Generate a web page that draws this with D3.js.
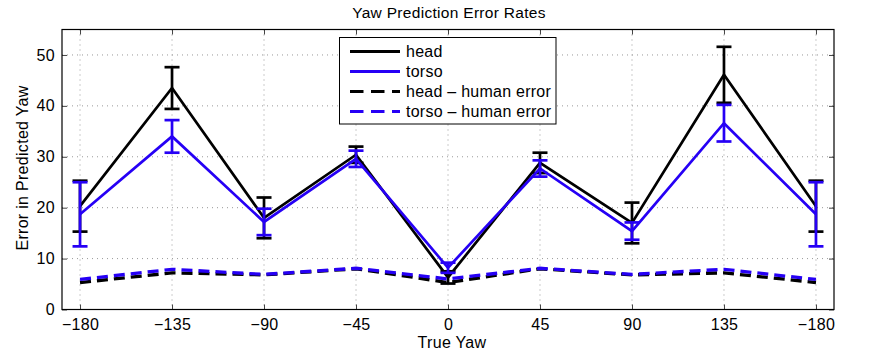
<!DOCTYPE html>
<html><head><meta charset="utf-8">
<script src="https://cdn.jsdelivr.net/npm/d3@7"></script>
<style>body{margin:0;background:#fff}text{font-family:"Liberation Sans",Arial,sans-serif;fill:#000}</style>
</head><body>
<svg id="c" width="870" height="356"></svg>
<script>
const tickLabels = ["\u2212180","\u2212135","\u221290","\u221245","0","45","90","135","\u2212180"];
const headMean   = [20.3, 43.5, 18.0, 30.4, 6.3, 28.8, 17.0, 46.1, 20.3];
const headErr    = [5.0, 4.1, 4.0, 1.6, 1.2, 2.0, 4.0, 5.5, 5.0];
const torsoMean  = [18.7, 34.0, 17.2, 29.6, 8.2, 27.7, 15.4, 36.6, 18.7];
const torsoErr   = [6.3, 3.2, 2.6, 1.6, 1.0, 1.6, 1.7, 3.6, 6.3];
const headHuman  = [5.3, 7.2, 6.8, 8.0, 5.3, 8.0, 6.8, 7.2, 5.3];
const torsoHuman = [5.9, 7.9, 6.9, 8.1, 6.0, 8.1, 6.9, 7.9, 5.9];
const yTicks = [0,10,20,30,40,50];
const legendLabels = ["head","torso","head \u2013 human error","torso \u2013 human error"];

const svg = d3.select("#c");
const L=62, R=834, T=29.5, B=309.5;
const idx = d3.range(tickLabels.length);
const x = d3.scaleLinear().domain([-0.196, 8.196]).range([L,R]);
const y = d3.scaleLinear().domain([0,55]).range([B,T]);
const FS = "16px";

// grid
const g = svg.append("g");
g.selectAll(".vg").data(idx).enter().append("line")
  .attr("x1",d=>x(d)).attr("x2",d=>x(d)).attr("y1",T).attr("y2",B)
  .attr("stroke","#999").attr("stroke-width",1).attr("stroke-dasharray","1,4");
g.selectAll(".hg").data(yTicks.filter(v=>v>0)).enter().append("line")
  .attr("x1",L).attr("x2",R).attr("y1",d=>y(d)).attr("y2",d=>y(d))
  .attr("stroke","#999").attr("stroke-width",1).attr("stroke-dasharray","1,4");

// axes
const xAxis = d3.axisBottom(x).tickValues(idx).tickFormat(i=>tickLabels[i]).tickSizeInner(-5).tickSizeOuter(0).tickPadding(9.5);
svg.append("g").attr("transform",`translate(0,${B})`).call(xAxis);
const yAxis = d3.axisLeft(y).tickValues(yTicks).tickSizeInner(-5).tickSizeOuter(0).tickPadding(7);
svg.append("g").attr("transform",`translate(${L},0)`).call(yAxis);
const xTop = d3.axisTop(x).tickValues(idx).tickFormat("").tickSizeInner(-5).tickSizeOuter(0);
svg.append("g").attr("transform",`translate(0,${T})`).call(xTop);
const yRight = d3.axisRight(y).tickValues(yTicks).tickFormat("").tickSizeInner(-5).tickSizeOuter(0);
svg.append("g").attr("transform",`translate(${R},0)`).call(yRight);
svg.selectAll(".domain").remove();
svg.selectAll(".tick line").attr("stroke","#444");
svg.selectAll(".tick text").style("font-size",FS).style("font-family","Liberation Sans, Arial, sans-serif").style("letter-spacing","0.3px");
svg.append("rect").attr("x",L).attr("y",T).attr("width",R-L).attr("height",B-T)
  .attr("fill","none").attr("stroke","#000").attr("stroke-width",1.2);

const line = d3.line().x((d,i)=>x(i)).y(d=>y(d));
function series(mean, err, color){
  svg.append("path").datum(mean).attr("d",line).attr("fill","none")
    .attr("stroke",color).attr("stroke-width",2.7).attr("stroke-linejoin","miter");
  const eb = svg.append("g").attr("stroke",color).attr("stroke-width",2.7);
  idx.forEach(i=>{
    const lo=y(mean[i]-err[i]), hi=y(mean[i]+err[i]), cx=x(i), w=7.5;
    eb.append("line").attr("x1",cx).attr("x2",cx).attr("y1",lo).attr("y2",hi);
    eb.append("line").attr("x1",cx-w).attr("x2",cx+w).attr("y1",lo).attr("y2",lo);
    eb.append("line").attr("x1",cx-w).attr("x2",cx+w).attr("y1",hi).attr("y2",hi);
  });
}
series(headMean, headErr, "#000");
series(torsoMean, torsoErr, "#2600f5");
svg.append("path").datum(headHuman).attr("d",line).attr("fill","none")
  .attr("stroke","#000").attr("stroke-width",3.3).attr("stroke-dasharray","11,6");
svg.append("path").datum(torsoHuman).attr("d",line).attr("fill","none")
  .attr("stroke","#2600f5").attr("stroke-width",3.3).attr("stroke-dasharray","11,6");

// legend
const lg = svg.append("g");
lg.append("rect").attr("x",339.5).attr("y",37.5).attr("width",216.5).attr("height",86.5)
  .attr("fill","#fff").attr("stroke","#000").attr("stroke-width",1);
const lcol = ["#000","#2600f5","#000","#2600f5"];
legendLabels.forEach((t,i)=>{
  const yy = 51.5 + i*20;
  lg.append("line").attr("x1",350).attr("x2",400).attr("y1",yy).attr("y2",yy)
    .attr("stroke",lcol[i]).attr("stroke-width",2.8)
    .attr("stroke-dasharray", i>=2 ? "13.5,7.5" : null);
  lg.append("text").attr("x",406).attr("y",yy+5.5).style("font-size",FS).style("letter-spacing","0.25px").text(t);
});

svg.append("text").attr("x",449).attr("y",17.5).attr("text-anchor","middle").style("font-size","15.5px").style("letter-spacing","0.3px").text("Yaw Prediction Error Rates");
svg.append("text").attr("x",452).attr("y",348).attr("text-anchor","middle").style("font-size",FS).style("letter-spacing","0.3px").text("True Yaw");
svg.append("text").attr("transform","translate(28,168) rotate(-90)").attr("text-anchor","middle").style("font-size",FS).style("letter-spacing","0.3px").text("Error in Predicted Yaw");
</script>
</body></html>
